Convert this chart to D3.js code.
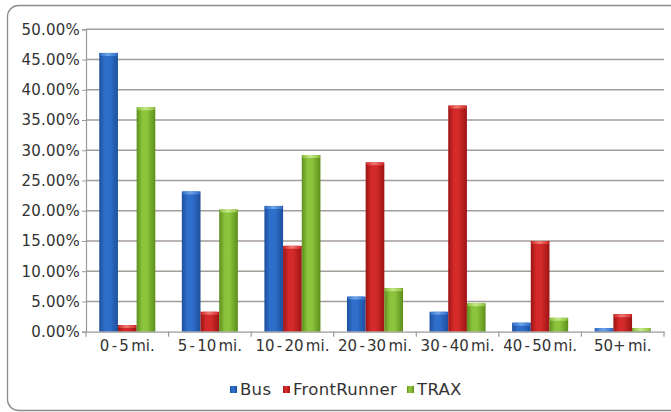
<!DOCTYPE html>
<html>
<head>
<meta charset="utf-8">
<script src="https://cdn.jsdelivr.net/npm/d3@7"></script>
<style>
  html, body { margin: 0; padding: 0; background: #fff; }
  svg { display: block; }
  text { font-family: "DejaVu Sans", sans-serif; fill: #333; }
</style>
</head>
<body>
<svg id="chart" width="671" height="412"></svg>
<script>
// Share of trips by distance band, per transit mode
const categories = ["0 - 5 mi.", "5 - 10 mi.", "10 - 20 mi.", "20 - 30 mi.", "30 - 40 mi.", "40 - 50 mi.", "50+ mi."];
const seriesNames = ["Bus", "FrontRunner", "TRAX"];
const busValues = [46.1, 23.2, 20.8, 5.8, 3.3, 1.5, 0.6];
const frontRunnerValues = [1.1, 3.3, 14.2, 28.0, 37.4, 15.0, 2.9];
const traxValues = [37.1, 20.2, 29.2, 7.2, 4.7, 2.3, 0.6];
const yTicks = [0, 5, 10, 15, 20, 25, 30, 35, 40, 45, 50];

const seriesValues = [busValues, frontRunnerValues, traxValues];
const palette = {
  Bus: { dark: "#1d4f9c", mid: "#2f6fcc", light: "#6ea3e6" },
  FrontRunner: { dark: "#9c1414", mid: "#d42a2a", light: "#ee7a72" },
  TRAX: { dark: "#5d8e1c", mid: "#8cc43c", light: "#c6e88a" }
};

const svg = d3.select("#chart");
const margin = { left: 86, right: 7, top: 29.3, bottom: 80.3 };
const W = 671, H = 412;
const plotW = W - margin.left - margin.right;
const plotH = H - margin.top - margin.bottom;

// Rounded frame
svg.append("rect")
  .attr("x", 7.5).attr("y", 5.5)
  .attr("width", 675).attr("height", 405)
  .attr("rx", 11).attr("ry", 11)
  .attr("fill", "#fff").attr("stroke", "#8c8c8c").attr("stroke-width", 1.3);

// Gradients for cylinder-like bars
const defs = svg.append("defs");
seriesNames.forEach(name => {
  const c = palette[name];
  const g = defs.append("linearGradient").attr("id", "grad-" + name)
    .attr("x1", "0%").attr("x2", "100%").attr("y1", "0%").attr("y2", "0%");
  g.append("stop").attr("offset", "0%").attr("stop-color", c.dark);
  g.append("stop").attr("offset", "30%").attr("stop-color", c.mid);
  g.append("stop").attr("offset", "55%").attr("stop-color", c.mid);
  g.append("stop").attr("offset", "100%").attr("stop-color", c.dark);
  const cap = defs.append("linearGradient").attr("id", "cap-" + name)
    .attr("x1", "0%").attr("x2", "100%");
  cap.append("stop").attr("offset", "0%").attr("stop-color", c.mid);
  cap.append("stop").attr("offset", "45%").attr("stop-color", c.light);
  cap.append("stop").attr("offset", "100%").attr("stop-color", c.mid);
});

const g = svg.append("g").attr("transform", `translate(${margin.left},${margin.top})`);

const x0 = d3.scaleBand().domain(categories).range([0, plotW]).padding(0);
const x1 = d3.scaleBand().domain(seriesNames).range([0, x0.bandwidth()])
  .paddingInner(0).paddingOuter(0.71);
const y = d3.scaleLinear().domain([0, 50]).range([plotH, 0]);

// Horizontal gridlines
g.append("g").selectAll("line").data(yTicks.filter(t => t > 0)).join("line")
  .attr("x1", 0).attr("x2", plotW)
  .attr("y1", d => y(d)).attr("y2", d => y(d))
  .attr("stroke", "#a39d98").attr("stroke-width", 1.4);

// Y axis
const yAxis = g.append("g")
  .call(d3.axisLeft(y).tickValues(yTicks).tickFormat(d => d.toFixed(2) + "%").tickSize(4).tickPadding(2));
yAxis.select(".domain").attr("stroke", "#9a9a9a").attr("stroke-width", 1.2);
yAxis.selectAll(".tick line").attr("stroke", "#9a9a9a");
yAxis.selectAll("text").attr("font-size", 15).attr("fill", "#333")
  .attr("font-family", "DejaVu Sans, sans-serif").attr("letter-spacing", "0.2");

// Bars
const groups = g.append("g").selectAll("g").data(categories).join("g")
  .attr("transform", d => `translate(${x0(d)},0)`);

groups.each(function(cat, ci) {
  const grp = d3.select(this);
  seriesNames.forEach((name, si) => {
    const v = seriesValues[si][ci];
    const bx = x1(name), bw = x1.bandwidth();
    grp.append("rect")
      .attr("x", bx).attr("y", y(v))
      .attr("width", bw).attr("height", plotH - y(v))
      .attr("fill", `url(#grad-${name})`);
    const capH = Math.min(3, plotH - y(v));
    grp.append("rect")
      .attr("x", bx + 0.5).attr("y", y(v))
      .attr("width", bw - 1).attr("height", capH)
      .attr("rx", 2).attr("ry", 1.5)
      .attr("fill", `url(#cap-${name})`);
  });
});

// X axis
const xAxis = g.append("g").attr("transform", `translate(0,${plotH})`)
  .call(d3.axisBottom(x0).tickSize(0).tickPadding(9));
xAxis.select(".domain").attr("stroke", "#9a9a9a").attr("stroke-width", 1.2);
xAxis.selectAll("text").attr("font-size", 15).attr("fill", "#333")
  .attr("font-family", "DejaVu Sans, sans-serif").attr("word-spacing", "-2.5");
// tick marks at category boundaries
g.append("g").selectAll("line").data(d3.range(categories.length + 1)).join("line")
  .attr("x1", i => i * x0.step()).attr("x2", i => i * x0.step())
  .attr("y1", plotH).attr("y2", plotH + 5)
  .attr("stroke", "#9a9a9a").attr("stroke-width", 1.2);

// Legend
const legend = svg.append("g").attr("transform", "translate(230,395)");
const legendOffsets = [0, 53, 177];
seriesNames.forEach((name, i) => {
  const item = legend.append("g").attr("transform", `translate(${legendOffsets[i]},0)`);
  item.append("rect").attr("x", 0).attr("y", -9).attr("width", 7).attr("height", 7)
    .attr("fill", `url(#grad-${name})`);
  item.append("text").attr("x", 10).attr("y", 0)
    .attr("font-size", 16.5).attr("letter-spacing", "0.3").attr("fill", "#333").text(name);
});
</script>
</body>
</html>
